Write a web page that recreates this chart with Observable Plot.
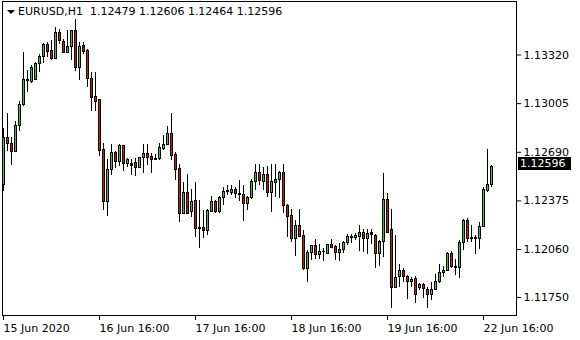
<!DOCTYPE html>
<html><head><meta charset="utf-8">
<script src="https://cdn.jsdelivr.net/npm/d3@7"></script>
<script src="https://cdn.jsdelivr.net/npm/@observablehq/plot@0.6"></script>
<style>
html,body{margin:0;padding:0;background:#fff;}
#wrap{position:relative;width:580px;height:340px;font-family:"DejaVu Sans";font-size:11px;color:#000;}
#tri{position:absolute;left:7px;top:10px;width:0;height:0;border-left:4px solid transparent;border-right:4px solid transparent;border-top:4px solid #000;}
#title{position:absolute;left:18px;top:5px;line-height:13px;white-space:pre;}
#last{position:absolute;left:518px;width:53px;height:13px;line-height:13px;background:#000;color:#fff;padding-left:2px;box-sizing:border-box;}
</style></head>
<body>
<div id="wrap"><div id="tri"></div><div id="title"></div><div id="last"></div></div>
<script>
const symbol = "EURUSD,H1";
const opens = [1.12477,1.12781,1.12742,1.12694,1.12859,1.12995,1.13150,1.13147,1.13156,1.13260,
1.13307,1.13383,1.13346,1.13292,1.13464,1.13406,1.13335,1.13372,1.13475,1.13238,
1.13378,1.13346,1.13163,1.13048,1.13029,1.12703,1.12371,1.12574,1.12684,1.12630,
1.12729,1.12617,1.12615,1.12619,1.12591,1.12652,1.12678,1.12658,1.12645,1.12649,
1.12714,1.12736,1.12807,1.12673,1.12580,1.12293,1.12423,1.12306,1.12375,1.12201,
1.12201,1.12177,1.12306,1.12369,1.12300,1.12393,1.12432,1.12429,1.12447,1.12419,
1.12414,1.12354,1.12393,1.12498,1.12555,1.12500,1.12544,1.12429,1.12494,1.12509,
1.12557,1.12343,1.12278,1.12128,1.12214,1.12147,1.11934,1.12037,1.12084,1.12024,
1.12045,1.12031,1.12089,1.12078,1.12037,1.12056,1.12102,1.12134,1.12134,1.12144,
1.12170,1.12128,1.12164,1.12149,1.12034,1.12106,1.12380,1.12188,1.11814,1.11879,
1.11923,1.11884,1.11847,1.11869,1.11808,1.11830,1.11800,1.11765,1.11798,1.11847,
1.11908,1.11923,1.12031,1.11948,1.11940,1.12102,1.12246,1.12136,1.12128,1.12128,
1.12207,1.12440,1.12479];
const highs = [1.12846,1.12943,1.12785,1.12888,1.13022,1.13339,1.13217,1.13249,1.13270,1.13325,
1.13393,1.13404,1.13411,1.13497,1.13486,1.13422,1.13480,1.13480,1.13553,1.13400,
1.13400,1.13357,1.13204,1.13205,1.13032,1.12746,1.12645,1.12742,1.12694,1.12742,
1.12732,1.12647,1.12645,1.12652,1.12656,1.12738,1.12738,1.12684,1.12678,1.12746,
1.12796,1.12856,1.12943,1.12686,1.12613,1.12494,1.12548,1.12447,1.12494,1.12380,
1.12311,1.12322,1.12401,1.12380,1.12401,1.12461,1.12472,1.12472,1.12461,1.12505,
1.12472,1.12401,1.12516,1.12613,1.12613,1.12591,1.12595,1.12613,1.12613,1.12565,
1.12613,1.12350,1.12317,1.12251,1.12322,1.12181,1.12052,1.12084,1.12128,1.12095,
1.12067,1.12095,1.12128,1.12084,1.12102,1.12110,1.12160,1.12160,1.12164,1.12218,
1.12192,1.12192,1.12192,1.12155,1.12117,1.12552,1.12425,1.12322,1.12149,1.11961,
1.11940,1.11890,1.11879,1.11884,1.11840,1.11840,1.11814,1.11847,1.11897,1.11966,
1.11948,1.12041,1.12047,1.11998,1.12121,1.12252,1.12263,1.12214,1.12153,1.12235,
1.12461,1.12705,1.12606];
const lows = [1.12436,1.12694,1.12602,1.12686,1.12824,1.12984,1.13076,1.13134,1.13152,1.13205,
1.13264,1.13307,1.13286,1.13290,1.13389,1.13328,1.13328,1.13286,1.13212,1.13152,
1.13325,1.13108,1.12953,1.12953,1.12662,1.12311,1.12274,1.12537,1.12587,1.12595,
1.12565,1.12591,1.12537,1.12533,1.12582,1.12555,1.12606,1.12555,1.12634,1.12634,
1.12703,1.12731,1.12634,1.12505,1.12235,1.12285,1.12285,1.12267,1.12138,1.12067,
1.12132,1.12149,1.12300,1.12296,1.12293,1.12343,1.12408,1.12408,1.12393,1.12369,
1.12241,1.12315,1.12386,1.12440,1.12477,1.12440,1.12397,1.12300,1.12397,1.12393,
1.12293,1.12138,1.12106,1.12013,1.12138,1.11923,1.11847,1.11987,1.11998,1.11998,
1.11983,1.12026,1.12069,1.11992,1.11983,1.12034,1.12084,1.12102,1.12117,1.12047,
1.12041,1.12031,1.12095,1.11940,1.11948,1.12009,1.12164,1.11675,1.11810,1.11811,
1.11847,1.11735,1.11814,1.11711,1.11793,1.11743,1.11681,1.11733,1.11793,1.11840,
1.11879,1.11918,1.11937,1.11895,1.11875,1.12056,1.12106,1.12106,1.12031,1.12063,
1.12203,1.12429,1.12464];
const closes = [1.12781,1.12742,1.12694,1.12859,1.12995,1.13156,1.13156,1.13234,1.13260,1.13307,
1.13383,1.13341,1.13292,1.13464,1.13411,1.13335,1.13372,1.13475,1.13238,1.13372,
1.13341,1.13163,1.13044,1.13018,1.12699,1.12371,1.12574,1.12684,1.12630,1.12729,
1.12613,1.12639,1.12604,1.12591,1.12652,1.12678,1.12656,1.12643,1.12642,1.12716,
1.12736,1.12807,1.12665,1.12574,1.12293,1.12423,1.12293,1.12369,1.12196,1.12192,
1.12177,1.12311,1.12369,1.12306,1.12393,1.12434,1.12436,1.12447,1.12419,1.12414,
1.12354,1.12393,1.12498,1.12555,1.12505,1.12544,1.12429,1.12498,1.12509,1.12557,
1.12343,1.12272,1.12128,1.12214,1.12143,1.11934,1.12037,1.12080,1.12024,1.12045,
1.12041,1.12089,1.12073,1.12037,1.12058,1.12102,1.12138,1.12143,1.12149,1.12170,
1.12128,1.12160,1.12153,1.12034,1.12106,1.12380,1.12170,1.11814,1.11875,1.11923,
1.11879,1.11847,1.11864,1.11765,1.11830,1.11804,1.11765,1.11798,1.11851,1.11905,
1.11923,1.12031,1.11950,1.11940,1.12102,1.12246,1.12131,1.12128,1.12136,1.12207,
1.12445,1.12480,1.12596];
const yTicks = [1.13320, 1.13005, 1.12690, 1.12375, 1.12060, 1.11750];
const xTickIdx = [0, 24, 48, 72, 96, 120];
const xTickLabels = ["15 Jun 2020", "16 Jun 16:00", "17 Jun 16:00", "18 Jun 16:00", "19 Jun 16:00", "22 Jun 16:00"];

const bars = opens.map((o, i) => ({i, o, h: highs[i], l: lows[i], c: closes[i]}));
const bodies = bars.filter(d => Math.abs(d.o - d.c) > 0.00013);
const UP = "#32c832", DOWN = "#e01010";

const chart = Plot.plot({
  width: 580, height: 340,
  marginLeft: 2, marginRight: 64, marginTop: 1, marginBottom: 25,
  style: {font: "11px 'DejaVu Sans'", background: "white", color: "black"},
  x: {domain: [-0.25, 128.25], axis: null, label: null},
  y: {domain: [1.116328, 1.136665], axis: null, label: null},
  marks: [
    Plot.ruleX(bars, {x: "i", y1: "l", y2: "h", stroke: "black", strokeWidth: 1, shapeRendering: "crispEdges"}),
    Plot.ruleX(bars, {x: "i", y1: d => Math.max(d.o, d.c), y2: d => Math.min(d.o, d.c), stroke: "black", strokeWidth: 3, insetTop: -0.5, insetBottom: -0.5, shapeRendering: "crispEdges"}),
    Plot.ruleX(bodies, {x: "i", y1: d => Math.max(d.o, d.c), y2: d => Math.min(d.o, d.c), stroke: d => d.c > d.o ? UP : DOWN, strokeWidth: 1, insetTop: 0.5, insetBottom: 0.5, shapeRendering: "crispEdges"}),
    Plot.frame({stroke: "black"}),
    Plot.axisY({anchor: "right", label: null, ticks: yTicks, tickFormat: d => d.toFixed(5), tickSize: 4, tickPadding: 3, stroke: "black", fill: "black"}),
    Plot.axisX({anchor: "bottom", label: null, ticks: xTickIdx, tickFormat: d => xTickLabels[xTickIdx.indexOf(d)], tickSize: 5, tickPadding: 4, textAnchor: "start", stroke: "black", fill: "black"})
  ]
});
const wrap = document.getElementById("wrap");
wrap.insertBefore(chart, wrap.firstChild);
chart.style.position = "absolute"; chart.style.left = "0px"; chart.style.top = "0px";

const last = closes[closes.length - 1];
document.getElementById("title").textContent =
  symbol + "  " + [opens, highs, lows, closes].map(a => a[a.length - 1].toFixed(5)).join(" ");
const lastEl = document.getElementById("last");
lastEl.textContent = last.toFixed(5);
lastEl.style.top = (chart.scale("y").apply(last) - 9) + "px";
</script>
</body></html>
